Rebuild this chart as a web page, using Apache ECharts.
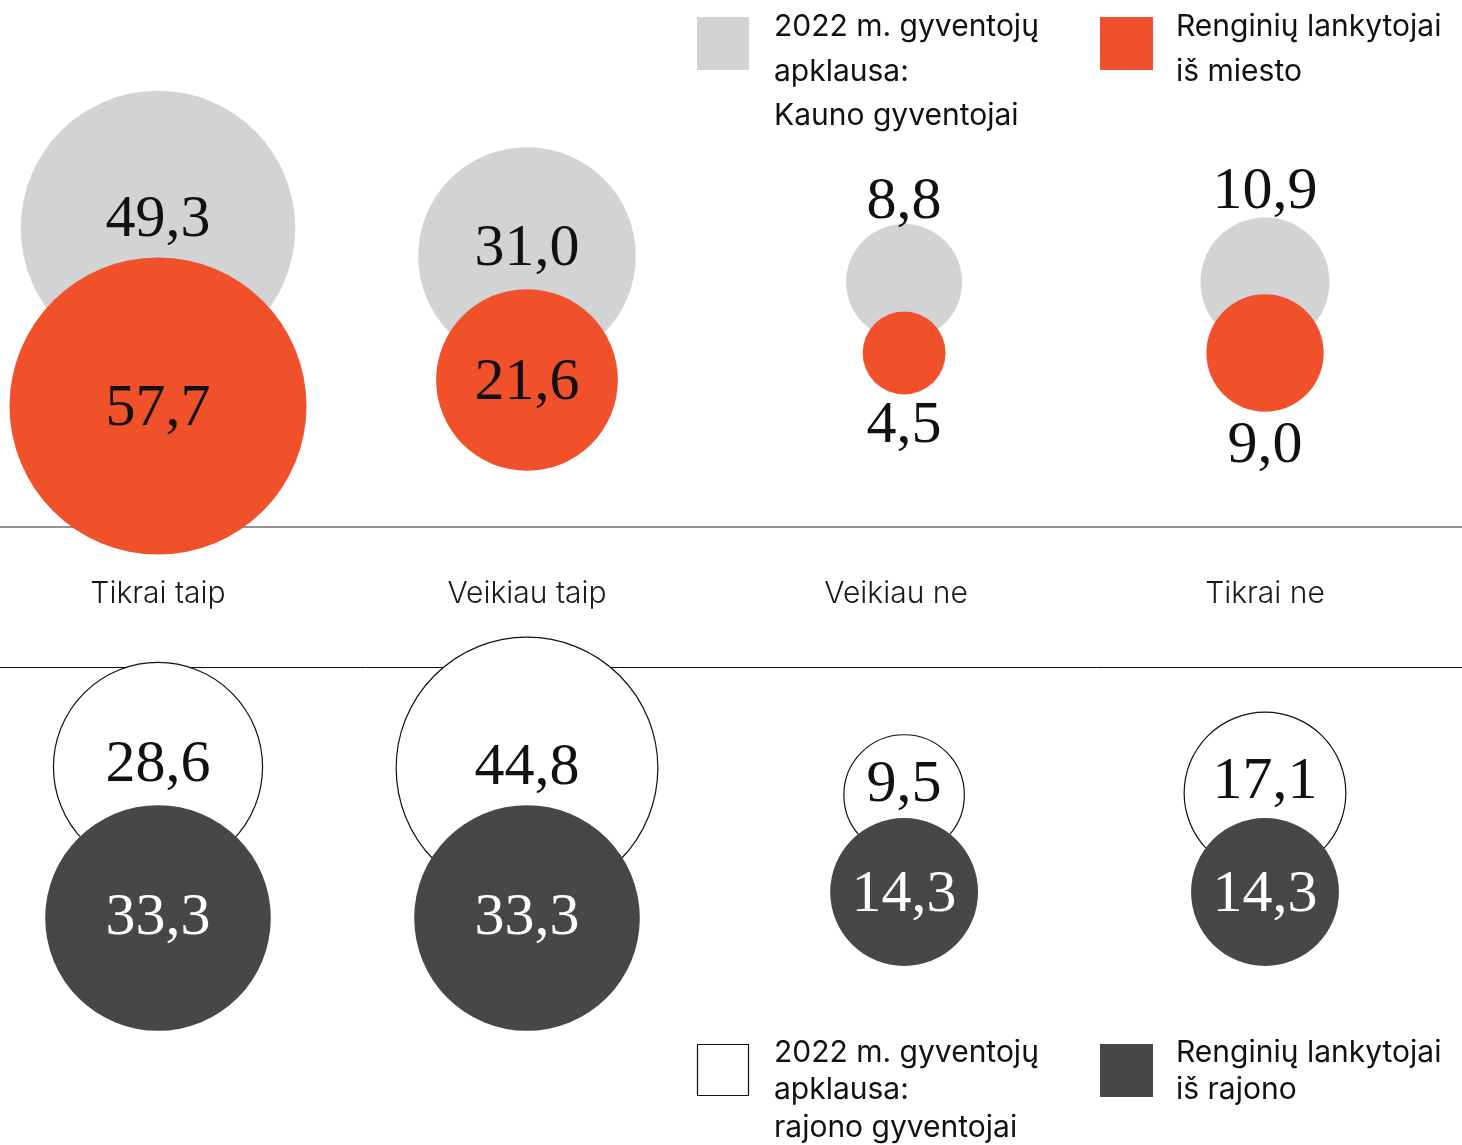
<!DOCTYPE html>
<html>
<head>
<meta charset="utf-8">
<script src="https://cdn.jsdelivr.net/npm/echarts@6/dist/echarts.min.js"></script>
<style>
    html, body { margin: 0; padding: 0; background: #fff; }
    #main { width: 1462px; height: 1145px; }
</style>
</head>
<body>
<div id="main"></div>
<script>
// kategorijos
const categories = ['Tikrai taip', 'Veikiau taip', 'Veikiau ne', 'Tikrai ne'];

// viršus: Kauno gyventojai / lankytojai iš miesto
const kaunasSurvey = [49.3, 31.0, 8.8, 10.9];
const cityVisitors = [57.7, 21.6, 4.5, 9.0];

// apačia: rajono gyventojai / lankytojai iš rajono
const districtSurvey = [28.6, 44.8, 9.5, 17.1];
const districtVisitors = [33.3, 33.3, 14.3, 14.3];

const legendNames = [
    '2022 m. gyventojų\napklausa:\nKauno gyventojai',
    'Renginių lankytojai\niš miesto',
    '2022 m. gyventojų\napklausa:\nrajono gyventojai',
    'Renginių lankytojai\niš rajono'
];

// --- layout (bubble placement on the hidden axes, label nudges)
const layout = {
    xNudge: [0, 0, 0.022, 0],
    kaunasY: [228, 256, 282, 282],
    cityY: [406, 380, 353, 353],
    districtSurveyY: [767, 768, 795, 793],
    districtVisitorsY: [918, 918, 892, 892],
    kaunasLbl: [-8, -7, -80, -90],
    cityLbl: [3, 3, 73, 93],
    districtSurveyLbl: [-2, 0, -10, -11],
    districtVisitorsLbl: [0, 0, 3, 3]
};

const SCALE = 39.1; // diameter = SCALE * sqrt(value)
const numFont = '"Liberation Serif", serif';
const sansFont = 'Inter, "Liberation Sans", sans-serif';

function fmt(v) {
    return v.toFixed(1).replace('.', ',');
}

function bubbles(values, ys, offs) {
    return values.map(function (v, i) {
        return {
            value: [i + layout.xNudge[i], ys[i], v],
            symbolSize: SCALE * Math.sqrt(v),
            label: { offset: [0, offs[i]] }
        };
    });
}

function bubbleSeries(name, values, ys, offs, itemStyle, labelColor) {
    itemStyle.opacity = 1;
    return {
        name: name,
        type: 'scatter',
        symbol: 'circle',
        data: bubbles(values, ys, offs),
        itemStyle: itemStyle,
        emphasis: { disabled: true },
        label: {
            show: true,
            position: 'inside',
            formatter: function (p) { return fmt(p.value[2]); },
            fontFamily: numFont,
            fontSize: 60,
            color: labelColor,
            opacity: 1
        }
    };
}

const chart = echarts.init(document.getElementById('main'));

let option = {
    backgroundColor: '#fff',
    animation: false,
    grid: {
        left: -26.5,
        right: 12.5,
        top: 0,
        bottom: 0,
        outerBoundsMode: 'none'
    },
    xAxis: {
        type: 'value',
        min: -0.5,
        max: 3.5,
        interval: 0.5,
        position: 'top',
        offset: -594,
        axisLine: { show: false },
        axisTick: { show: false },
        splitLine: { show: false },
        axisLabel: {
            margin: 0,
            verticalAlign: 'middle',
            fontFamily: sansFont,
            fontSize: 30,
            fontWeight: 300,
            color: '#1a1a1a',
            showMinLabel: false,
            showMaxLabel: false,
            formatter: function (v) {
                return Number.isInteger(v) ? categories[v] : '';
            }
        }
    },
    yAxis: {
        type: 'value',
        inverse: true,
        min: 0,
        max: 1145,
        show: false
    },
    graphic: [
        // separator lines (under the bubbles)
        { type: 'line', z: 0, shape: { x1: 0, y1: 527, x2: 1462, y2: 527 }, style: { stroke: '#707070', lineWidth: 1.5 } },
        { type: 'line', z: 0, shape: { x1: 0, y1: 667.5, x2: 1462, y2: 667.5 }, style: { stroke: '#111', lineWidth: 1 } },
        // legend top
        { type: 'rect', shape: { x: 697, y: 17, width: 52, height: 53 }, style: { fill: '#d1d3d4' } },
        { type: 'text', x: 774, y: 5, style: { text: legendNames[0], font: '400 30px ' + sansFont, fill: '#111', lineHeight: 44.5, verticalAlign: 'top' } },
        { type: 'rect', shape: { x: 1100, y: 17, width: 53, height: 53 }, style: { fill: '#f0512a' } },
        { type: 'text', x: 1176, y: 5, style: { text: legendNames[1], font: '400 30px ' + sansFont, fill: '#111', lineHeight: 44.5, verticalAlign: 'top' } },
        // legend bottom
        { type: 'rect', shape: { x: 697.5, y: 1044.5, width: 51, height: 51 }, style: { fill: '#fff', stroke: '#111', lineWidth: 1.2 } },
        { type: 'text', x: 774, y: 1034, style: { text: legendNames[2], font: '400 30px ' + sansFont, fill: '#111', lineHeight: 37.5, verticalAlign: 'top' } },
        { type: 'rect', shape: { x: 1100, y: 1044, width: 53, height: 53 }, style: { fill: '#474747' } },
        { type: 'text', x: 1176, y: 1034, style: { text: legendNames[3], font: '400 30px ' + sansFont, fill: '#111', lineHeight: 37.5, verticalAlign: 'top' } }
    ],
    series: [
        bubbleSeries('Kauno gyventojai', kaunasSurvey, layout.kaunasY, layout.kaunasLbl,
            { color: '#d1d3d4' }, '#111'),
        bubbleSeries('Lankytojai iš miesto', cityVisitors, layout.cityY, layout.cityLbl,
            { color: '#f0512a' }, '#111'),
        bubbleSeries('Rajono gyventojai', districtSurvey, layout.districtSurveyY, layout.districtSurveyLbl,
            { color: '#fff', borderColor: '#111', borderWidth: 1.2 }, '#111'),
        bubbleSeries('Lankytojai iš rajono', districtVisitors, layout.districtVisitorsY, layout.districtVisitorsLbl,
            { color: '#474747' }, '#fff')
    ]
};

chart.setOption(option);
</script>
</body>
</html>
